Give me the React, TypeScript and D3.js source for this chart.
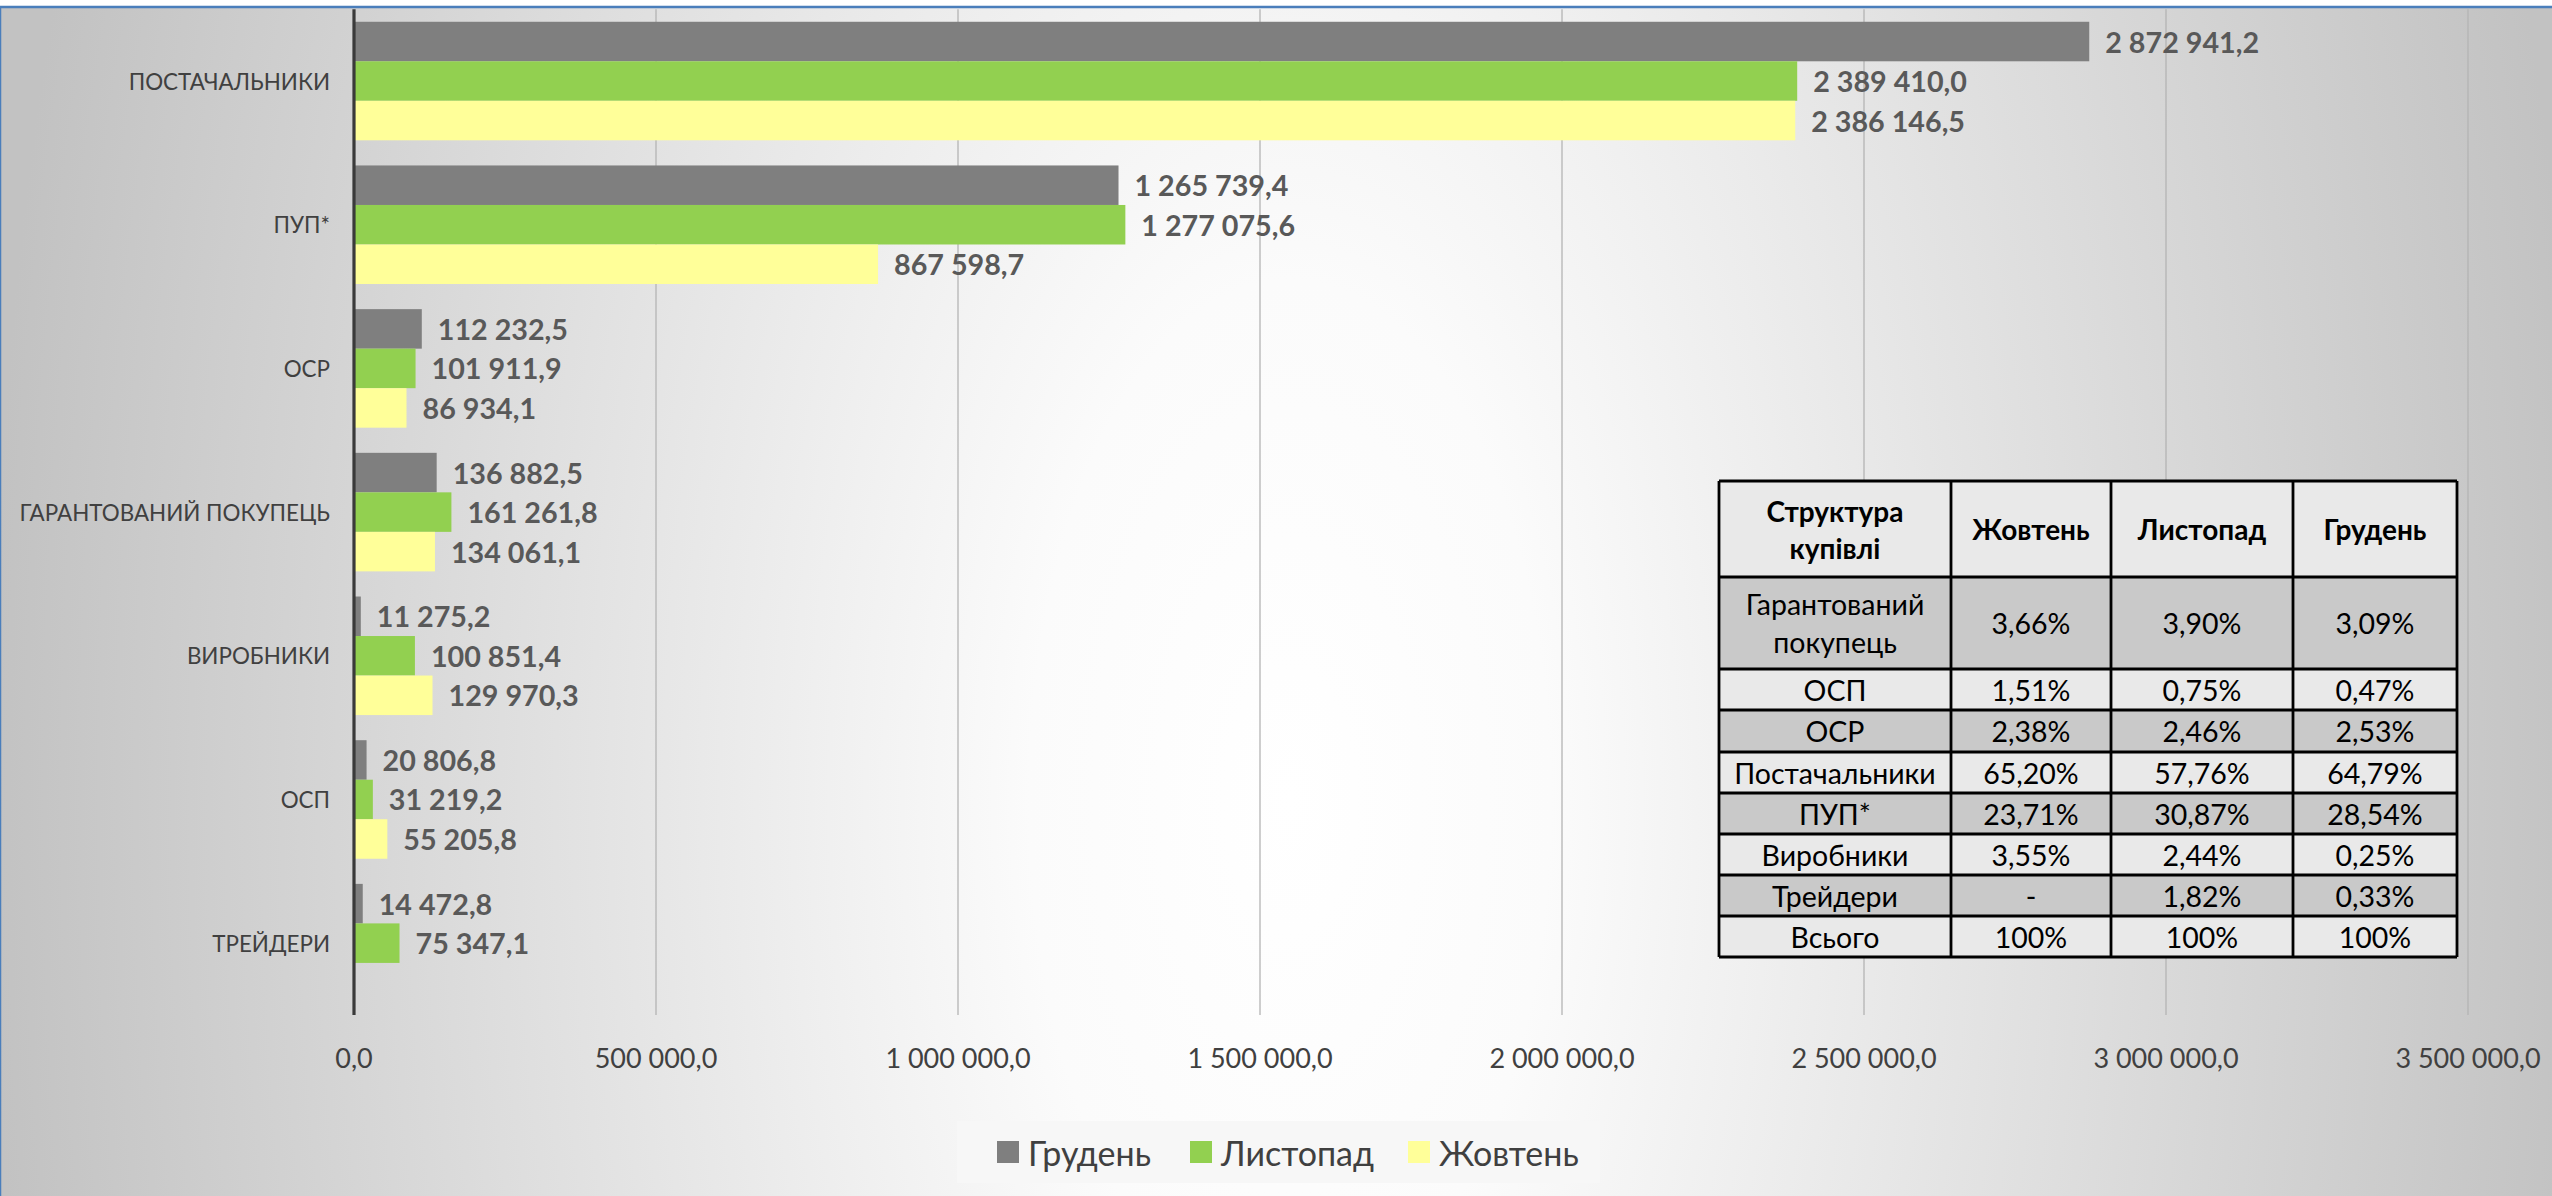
import React from "react";
import * as d3 from "d3";

const categories = [
  "ПОСТАЧАЛЬНИКИ",
  "ПУП*",
  "ОСР",
  "ГАРАНТОВАНИЙ ПОКУПЕЦЬ",
  "ВИРОБНИКИ",
  "ОСП",
  "ТРЕЙДЕРИ",
];
const seriesNames = ["Грудень", "Листопад", "Жовтень"];
const grudenValues: (number | null)[] = [2872941.2, 1265739.4, 112232.5, 136882.5, 11275.2, 20806.8, 14472.8];
const lystopadValues: (number | null)[] = [2389410.0, 1277075.6, 101911.9, 161261.8, 100851.4, 31219.2, 75347.1];
const zhovtenValues: (number | null)[] = [2386146.5, 867598.7, 86934.1, 134061.1, 129970.3, 55205.8, null];
const seriesColors = ["#7f7f7f", "#92d050", "#ffff99"];
const xTicks = [0, 500000, 1000000, 1500000, 2000000, 2500000, 3000000, 3500000];

const tableHeader = ["Структура|купівлі", "Жовтень", "Листопад", "Грудень"];
const tableRowNames = ["Гарантований|покупець", "ОСП", "ОСР", "Постачальники", "ПУП*", "Виробники", "Трейдери", "Всього"];
const tableZhovten = ["3,66%", "1,51%", "2,38%", "65,20%", "23,71%", "3,55%", "-", "100%"];
const tableLystopad = ["3,90%", "0,75%", "2,46%", "57,76%", "30,87%", "2,44%", "1,82%", "100%"];
const tableGruden = ["3,09%", "0,47%", "2,53%", "64,79%", "28,54%", "0,25%", "0,33%", "100%"];

const FONT = "Lato, 'Open Sans', sans-serif";

export default function App() {
  const W = 2552;
  const H = 1196;
  const locale = d3.formatLocale({ decimal: ",", thousands: " ", grouping: [3], currency: ["", ""] });
  const fmt = locale.format(",.1f");

  const plotTop = 9.2;
  const plotBottom = 1015;
  const x = d3.scaleLinear().domain([0, 3500000]).range([354, 2468]);
  const y0 = d3
    .scaleBand<string>()
    .domain(categories)
    .range([plotTop, plotBottom])
    .paddingInner(0.175)
    .paddingOuter(0.0875);
  const y1 = d3.scaleBand<string>().domain(seriesNames).range([0, y0.bandwidth()]);
  const series = [grudenValues, lystopadValues, zhovtenValues];

  // table layout
  const colX = [1719, 1951, 2111, 2293, 2457];
  const rowY = [481, 577, 669, 710, 752, 793, 834, 875, 916, 957];
  const tableCols = [tableRowNames, tableZhovten, tableLystopad, tableGruden];

  const legendX = [997, 1190, 1408];

  const renderLines = (txt: string, cx: number, cy: number, props: any, lh: number) => {
    const lines = txt.split("|");
    return lines.map((ln, i) => (
      <text
        key={i}
        x={cx}
        y={cy + (i - (lines.length - 1) / 2) * lh}
        textAnchor="middle"
        dominantBaseline="central"
        {...props}
      >
        {ln}
      </text>
    ));
  };

  return (
    <svg
      width={W}
      height={H}
      style={{ position: "absolute", left: 0, top: 0, display: "block" }}
      fontFamily={FONT}
    >
      <defs>
        <radialGradient
          id="bg"
          gradientUnits="userSpaceOnUse"
          cx={1290}
          cy={800}
          r={1300}
          gradientTransform="translate(1290,800) scale(1,2) translate(-1290,-800)"
        >
          <stop offset="0" stopColor="#ffffff" />
          <stop offset="0.2" stopColor="#fbfbfb" />
          <stop offset="1" stopColor="#c2c2c2" />
        </radialGradient>
      </defs>
      <rect x={0} y={0} width={W} height={H} fill="#ffffff" />
      <rect x={0} y={7} width={W + 4} height={H} fill="url(#bg)" stroke="#4a7ebb" strokeWidth={2.5} />

      {/* gridlines */}
      {xTicks.slice(1).map((t) => (
        <line key={t} x1={x(t)} x2={x(t)} y1={plotTop} y2={plotBottom} stroke="#b4b4b4" strokeWidth={1.3} />
      ))}

      {/* bars */}
      {categories.map((c, ci) => (
        <g key={c}>
          {series.map((vals, si) => {
            const v = vals[ci];
            if (v == null) return null;
            const yy = (y0(c) as number) + (y1(seriesNames[si]) as number);
            return (
              <rect
                key={si}
                x={x(0)}
                y={yy}
                width={x(v) - x(0)}
                height={y1.bandwidth()}
                fill={seriesColors[si]}
              />
            );
          })}
        </g>
      ))}

      {/* axis line */}
      <line x1={x(0)} x2={x(0)} y1={plotTop} y2={plotBottom} stroke="#3a3a3a" strokeWidth={3.2} />

      {/* data labels */}
      {categories.map((c, ci) => (
        <g key={c}>
          {series.map((vals, si) => {
            const v = vals[ci];
            if (v == null) return null;
            const yy = (y0(c) as number) + (y1(seriesNames[si]) as number) + y1.bandwidth() / 2;
            return (
              <text
                key={si}
                x={x(v) + 16}
                y={yy}
                dominantBaseline="central"
                fontSize={28.7}
                fontWeight="bold"
                fill="#595959"
              >
                {fmt(v)}
              </text>
            );
          })}
        </g>
      ))}

      {/* category labels */}
      {categories.map((c) => (
        <text
          key={c}
          x={330}
          y={(y0(c) as number) + y0.bandwidth() / 2}
          textAnchor="end"
          dominantBaseline="central"
          fontSize={22.4}
          fill="#404040"
        >
          {c}
        </text>
      ))}

      {/* x tick labels */}
      {xTicks.map((t) => (
        <text key={t} x={x(t)} y={1057} textAnchor="middle" dominantBaseline="central" fontSize={27} fill="#404040">
          {fmt(t)}
        </text>
      ))}

      {/* table */}
      <g>
        {rowY.slice(0, -1).map((ry, ri) => (
          <rect
            key={ri}
            x={colX[0]}
            y={ry}
            width={colX[4] - colX[0]}
            height={rowY[ri + 1] - ry}
            fill={ri % 2 === 1 ? "#c9c9c9" : "#e9e9e9"}
          />
        ))}
        {rowY.map((ry, ri) => (
          <line key={"h" + ri} x1={colX[0]} x2={colX[4]} y1={ry} y2={ry} stroke="#000" strokeWidth={2.8} />
        ))}
        {colX.map((cx, i) => (
          <line key={"v" + i} x1={cx} x2={cx} y1={rowY[0]} y2={rowY[rowY.length - 1]} stroke="#000" strokeWidth={2.8} />
        ))}
        {tableHeader.map((h, i) => (
          <g key={"th" + i}>
            {renderLines(h, (colX[i] + colX[i + 1]) / 2, (rowY[0] + rowY[1]) / 2, { fontSize: 28, fontWeight: "bold", fill: "#000" }, 37)}
          </g>
        ))}
        {tableCols.map((col, ci) =>
          col.map((val, ri) => (
            <g key={ci + "-" + ri}>
              {renderLines(
                val,
                (colX[ci] + colX[ci + 1]) / 2,
                (rowY[ri + 1] + rowY[ri + 2]) / 2,
                { fontSize: 28.5, fill: "#000" },
                38
              )}
            </g>
          ))
        )}
      </g>

      {/* legend */}
      <rect x={957} y={1121} width={643} height={62} fill="#f7f7f7" />
      {seriesNames.map((s, i) => (
        <g key={s}>
          <rect x={legendX[i]} y={1141} width={22} height={22} fill={seriesColors[i]} />
          <text x={legendX[i] + 31} y={1152} dominantBaseline="central" fontSize={34} fill="#404040">
            {s}
          </text>
        </g>
      ))}
    </svg>
  );
}
